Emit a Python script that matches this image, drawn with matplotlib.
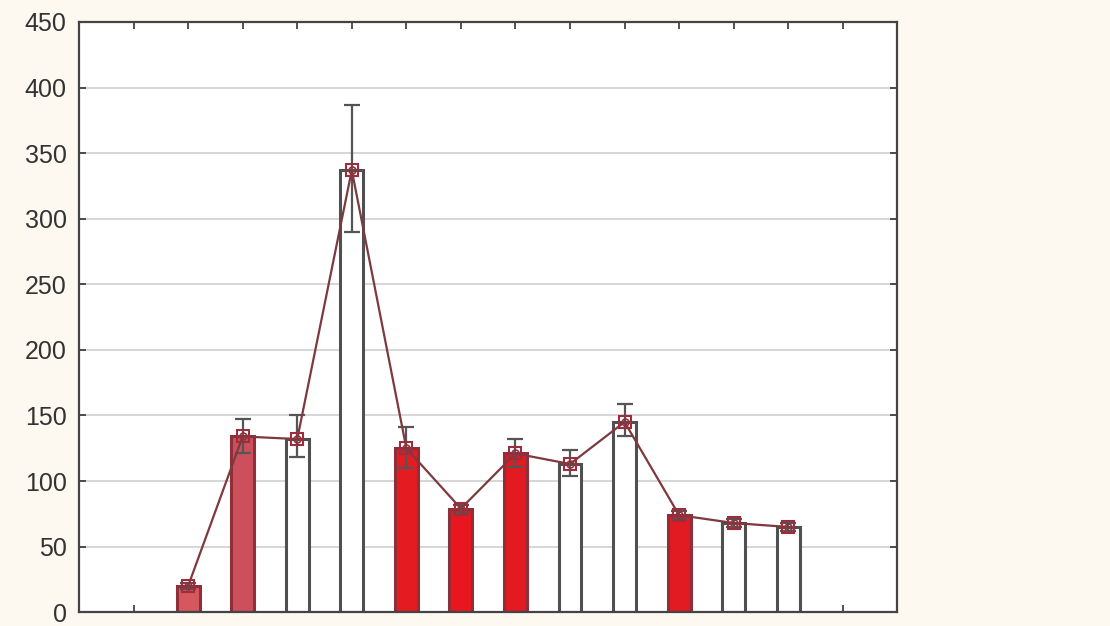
import matplotlib.pyplot as plt
import numpy as np

plt.rcParams['font.family'] = ['Liberation Sans', 'DejaVu Sans']

# bar positions (category slots 2..13 on a 0..15 axis)
positions = [2, 3, 4, 5, 6, 7, 8, 9, 10, 11, 12, 13]
means = [20, 134, 132, 337, 125, 79, 121, 113, 145, 74, 68, 65]
err_upper = [22, 147, 150, 387, 141, 82, 132, 124, 159, 77, 71, 68]
err_lower = [18, 121, 118, 290, 110, 76, 111, 104, 134, 71, 65, 62]
bar_fill = ["#d4585e", "#cc4f5c", "white", "white", "#e41c22", "#e8161e",
            "#e21a22", "white", "white", "#e21a22", "white", "white"]
bar_edge = ["#8e2f3a", "#8e2f3a", "#505050", "#505050", "#8e2f3a", "#8e2f3a",
            "#8e2f3a", "#505050", "#505050", "#8e2f3a", "#505050", "#505050"]
y_ticks = [0, 50, 100, 150, 200, 250, 300, 350, 400, 450]

fig = plt.figure(figsize=(11.1, 6.26), dpi=100, facecolor="#fdf9f0")
ax = fig.add_axes([0.0712, 0.022, 0.7372, 0.943])
ax.set_facecolor("white")

# horizontal grid
ax.yaxis.grid(True, color="#cfcfcf", linewidth=1.2)
ax.set_axisbelow(True)

ax.bar(positions, means, width=0.42, color=bar_fill, edgecolor=bar_edge,
       linewidth=2.2, zorder=2)

yerr = [np.array(means) - np.array(err_lower), np.array(err_upper) - np.array(means)]
ax.errorbar(positions, means, yerr=yerr, fmt="none", ecolor="#555555",
            elinewidth=1.6, capsize=6, capthick=1.6, zorder=3)

# mean line with markers
ax.plot(positions, means, color="#7d3a3e", linewidth=1.6, zorder=4)
ax.plot(positions, means, linestyle="none", marker="s", markersize=9,
        markerfacecolor="none", markeredgecolor="#9a2e3c", markeredgewidth=1.5, zorder=5)
ax.plot(positions, means, linestyle="none", marker="o", markersize=5,
        markerfacecolor="none", markeredgecolor="#9a2e3c", markeredgewidth=1.2, zorder=5)

ax.set_xlim(0, 15)
ax.set_ylim(0, 450)
ax.set_yticks(y_ticks)
ax.set_xticks(np.arange(1, 15))
ax.set_xticklabels([])
ax.tick_params(axis="y", direction="in", length=5, width=1.2, color="#333333",
               labelsize=18, labelcolor="#333333", right=True, pad=9)
ax.tick_params(axis="x", direction="in", length=5, width=1.2, color="#333333", top=True)

for spine in ax.spines.values():
    spine.set_color("#444444")
    spine.set_linewidth(1.6)

plt.savefig("out.png", dpi=100, facecolor=fig.get_facecolor())
